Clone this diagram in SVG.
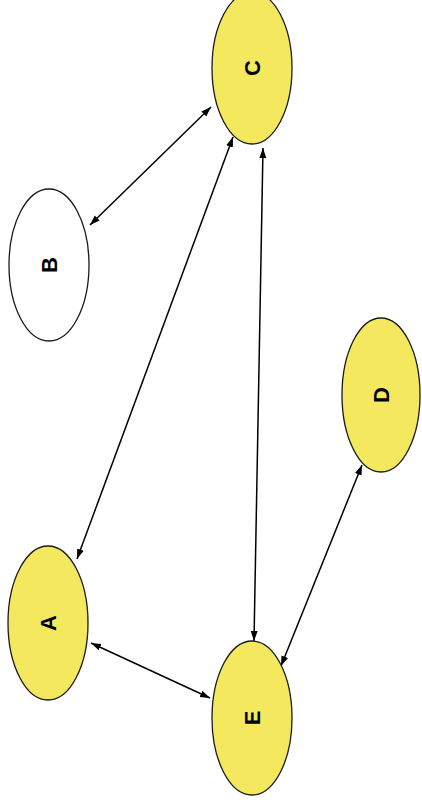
<svg xmlns="http://www.w3.org/2000/svg" width="422" height="809" viewBox="0 0 422 809">
<style>
.n{stroke:#1a1a1a;stroke-width:1.3}
.y{fill:#f3e85e}
.w{fill:#ffffff}
.t{font-family:"Liberation Sans",Arial,sans-serif;font-weight:bold;font-size:22px;fill:#000;text-anchor:middle;dominant-baseline:central}
.e{stroke:#000;stroke-width:1.5;fill:none;marker-start:url(#ah);marker-end:url(#ah)}
</style>
<defs>
<marker id="ah" viewBox="0 0 10 10" refX="10" refY="5" markerWidth="10" markerHeight="10" orient="auto-start-reverse" markerUnits="userSpaceOnUse">
<path d="M0,1.5 L10,5 L0,8.5 z" fill="#000"/>
</marker>
</defs>
<rect width="422" height="809" fill="#fff"/>
<g id="edges">
<line class="e" x1="90" y1="225" x2="211" y2="107"/>
<line class="e" x1="233" y1="137" x2="77" y2="559"/>
<line class="e" x1="263" y1="148" x2="254" y2="641"/>
<line class="e" x1="362" y1="465" x2="281" y2="666"/>
<line class="e" x1="91" y1="643" x2="210" y2="698"/>
</g>
<g id="C"><ellipse class="n y" cx="252" cy="68" rx="40" ry="76"/><text class="t" transform="rotate(-90 252 68)" x="252" y="68">C</text></g>
<g id="B"><ellipse class="n w" cx="49" cy="265" rx="40" ry="76"/><text class="t" transform="rotate(-90 49 265)" x="49" y="265">B</text></g>
<g id="D"><ellipse class="n y" cx="381" cy="395" rx="39" ry="77"/><text class="t" transform="rotate(-90 381 395)" x="381" y="395">D</text></g>
<g id="A"><ellipse class="n y" cx="48" cy="623" rx="40" ry="77"/><text class="t" transform="rotate(-90 48 623)" x="48" y="623">A</text></g>
<g id="E"><ellipse class="n y" cx="252" cy="718" rx="40" ry="77"/><text class="t" transform="rotate(-90 252 718)" x="252" y="718">E</text></g>
</svg>
